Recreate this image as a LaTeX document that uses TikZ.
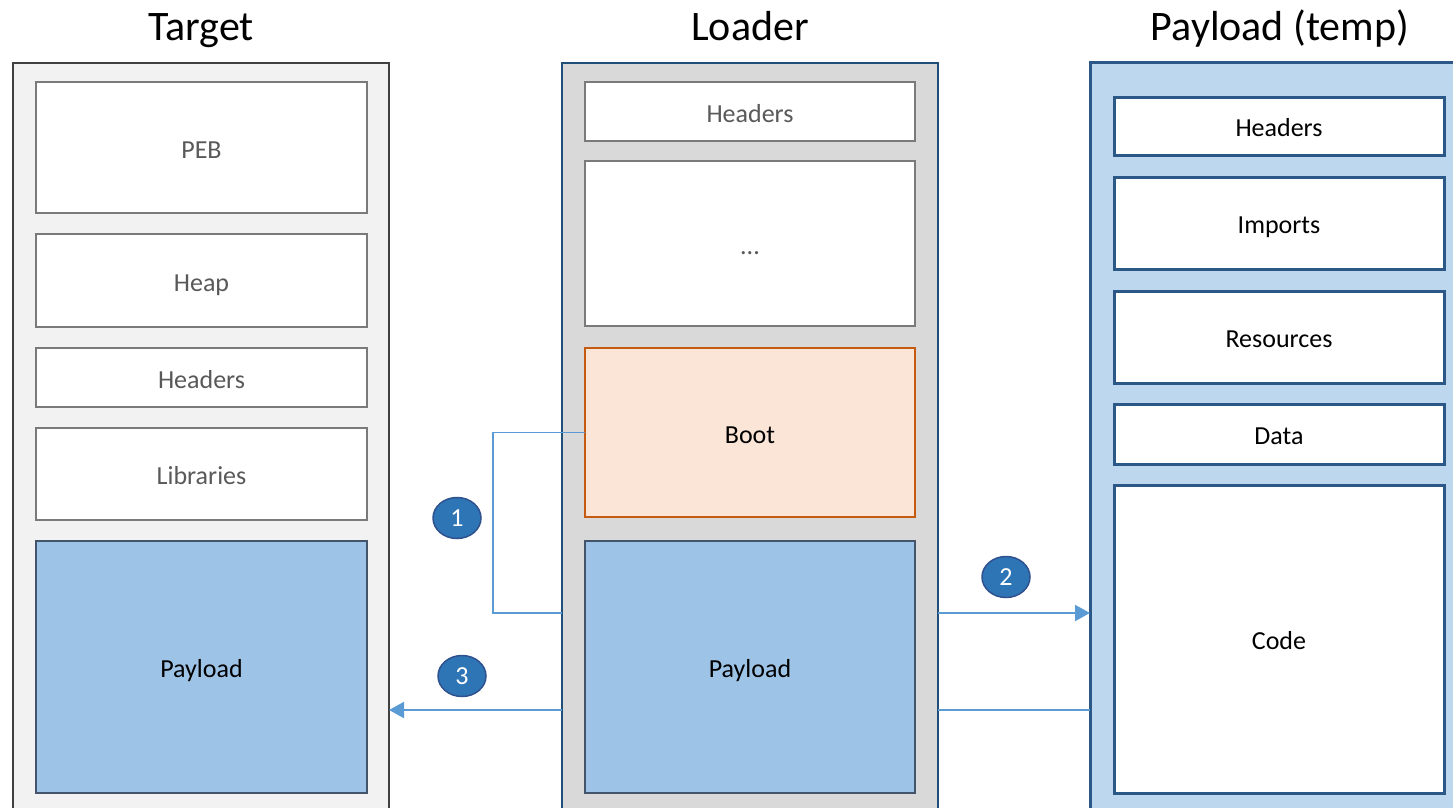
\documentclass[tikz,border=0pt]{standalone}
\usepackage{fontspec}
\setmainfont{Carlito}
\usetikzlibrary{arrows.meta,shapes.geometric}
\definecolor{tgtfill}{HTML}{F2F2F2}
\definecolor{tgtdraw}{HTML}{404040}
\definecolor{ldrfill}{HTML}{D9D9D9}
\definecolor{ldrdraw}{HTML}{1F4E79}
\definecolor{ptfill}{HTML}{BDD7EE}
\definecolor{ptdraw}{HTML}{2B5887}
\definecolor{graydraw}{HTML}{7A7A7A}
\definecolor{graytext}{HTML}{595959}
\definecolor{plfill}{HTML}{9DC3E6}
\definecolor{pldraw}{HTML}{44546A}
\definecolor{bootfill}{HTML}{FBE5D6}
\definecolor{bootdraw}{HTML}{C55A11}
\definecolor{circfill}{HTML}{2E75B6}
\definecolor{circdraw}{HTML}{2F528F}
\definecolor{conncol}{HTML}{5B9BD5}
\tikzset{
  outerbox/.style={rectangle, inner sep=0pt, outer sep=0pt},
  cell/.style={rectangle, inner sep=0pt, outer sep=0pt, font=\fontsize{26}{30}\selectfont, text height=21pt, text depth=0pt},
  graycell/.style={cell, draw=graydraw, line width=2.5pt, fill=white, text=graytext},
  bluecell/.style={cell, draw=pldraw, line width=2.5pt, fill=plfill, text=black},
  bootcell/.style={cell, draw=bootdraw, line width=2.5pt, fill=bootfill, text=black},
  ptcell/.style={cell, draw=ptdraw, line width=3pt, fill=white, text=black},
  title/.style={font=\fontsize{42}{50}\selectfont, anchor=base},
  badge/.style={ellipse, draw=circdraw, line width=1.5pt, fill=circfill, text=white, minimum width=48pt, minimum height=41pt, inner sep=0pt, font=\fontsize{26}{30}\selectfont},
  conn/.style={draw=conncol, line width=1.6pt},
  arr/.style={draw=conncol, line width=2pt, -{Triangle[length=15pt,width=16pt]}},
}
\begin{document}
\begin{tikzpicture}[x=1pt,y=-1pt]
\useasboundingbox (0,0) rectangle (1453,808);
\clip (0,0) rectangle (1453,808);
% titles
\node[title] (ttarget) at (201,41) {Target};
\node[title] (tloader) at (750,41) {Loader};
\node[title] (tpt) at (1280,41) {Payload (temp)};
% outer columns
\node[outerbox, fill=tgtfill, draw=tgtdraw, line width=2.5pt, minimum width=376pt, minimum height=777pt] (target) at (201,451.5) {};
\node[outerbox, fill=ldrfill, draw=ldrdraw, line width=2pt, minimum width=376pt, minimum height=777pt] (loader) at (750,451.5) {};
\node[outerbox, fill=ptfill, draw=ptdraw, line width=3pt, minimum width=400pt, minimum height=777pt] (ptemp) at (1290,451.5) {};
% target cells
\node[graycell, minimum width=331pt, minimum height=131pt] (peb) at (201.5,147.5) {PEB};
\node[graycell, minimum width=331pt, minimum height=93pt] (heap) at (201.5,280.5) {Heap};
\node[graycell, minimum width=331pt, minimum height=59pt] (thead) at (201.5,377.5) {Headers};
\node[graycell, minimum width=331pt, minimum height=92pt] (tlib) at (201.5,474) {Libraries};
\node[bluecell, minimum width=331pt, minimum height=252pt] (tpay) at (201.5,667) {Payload};
% loader cells
\node[graycell, minimum width=330pt, minimum height=59pt] (lhead) at (750,111.5) {Headers};
\node[graycell, minimum width=330pt, minimum height=165pt] (ldots) at (750,243.5) {...};
\node[bootcell, minimum width=330pt, minimum height=169pt] (boot) at (750,432.5) {Boot};
\node[bluecell, minimum width=330pt, minimum height=252pt] (lpay) at (750,667) {Payload};
% payload (temp) cells
\node[ptcell, minimum width=330pt, minimum height=58pt] (phead) at (1279,126) {Headers};
\node[ptcell, minimum width=330pt, minimum height=92pt] (pimp) at (1279,223) {Imports};
\node[ptcell, minimum width=330pt, minimum height=92pt] (pres) at (1279,337) {Resources};
\node[ptcell, minimum width=330pt, minimum height=60pt] (pdata) at (1279,434) {Data};
\node[ptcell, minimum width=330pt, minimum height=308pt] (pcode) at (1279,639) {Code};
% connectors
\coordinate (k1) at (493,613);
\coordinate (k3) at (0,710);
\draw[conn] (boot.west) -| (k1) -- (k1 -| loader.west);
\draw[arr] (loader.east |- k1) -- (ptemp.west |- k1);
\draw[arr] (loader.west |- k3) -- (target.east |- k3);
\draw[conn, line width=2pt] (ptemp.west |- k3) -- (loader.east |- k3);
% badges
\node[badge] (b1) at (457,518) {1};
\node[badge] (b2) at (1006,577) {2};
\node[badge] (b3) at (462,676) {3};
\end{tikzpicture}
\end{document}
